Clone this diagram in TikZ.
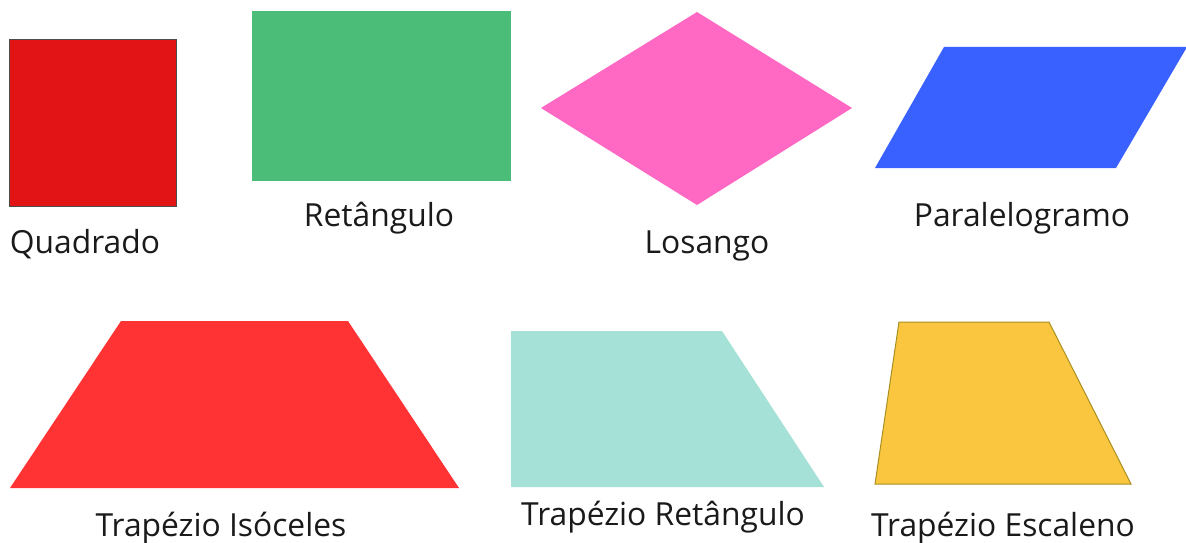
\documentclass[tikz,border=0pt]{standalone}
\usepackage{fontspec}
\setmainfont{Open Sans}
\definecolor{cq}{HTML}{E31416}
\definecolor{cr}{HTML}{4BBD78}
\definecolor{cl}{HTML}{FF69C4}
\definecolor{cp}{HTML}{3861FF}
\definecolor{ci}{HTML}{FF3333}
\definecolor{ct}{HTML}{A6E1D8}
\definecolor{ce}{HTML}{FAC640}
\definecolor{ceb}{HTML}{A89020}
\definecolor{txt}{HTML}{1A1A1A}
\begin{document}
\begin{tikzpicture}[x=1pt,y=-1pt,
  lbl/.style={anchor=base,font=\fontsize{31.8}{36}\selectfont,text=txt,inner sep=0pt}]
\useasboundingbox (0,0) rectangle (1186,543);
\fill[white] (0,0) rectangle (1186,543);
% shapes
\filldraw[fill=cq,draw=black!70,line width=0.8pt] (9,39) rectangle (176,206);
\fill[cr] (252,11) rectangle (511,181);
\fill[cl] (541,108) -- (697,12) -- (852,108) -- (697,205) -- cycle;
\fill[cp] (875,168) -- (944,47) -- (1187,47) -- (1116,168) -- cycle;
\fill[ci] (10,488) -- (121,321) -- (348,321) -- (459,488) -- cycle;
\fill[ct] (511,331) -- (722,331) -- (824,487) -- (511,487) -- cycle;
\filldraw[fill=ce,draw=ceb,line width=1pt] (875,484) -- (899,322) -- (1049,322) -- (1131,484) -- cycle;
% labels
\node[lbl] (lq) at (85,253) {Quadrado};
\node[lbl] (lr) at (379,226) {Retângulo};
\node[lbl] (ll) at (707,253) {Losango};
\node[lbl] (lp) at (1022,226) {Paralelogramo};
\node[lbl] (li) at (221,536) {Trapézio Isóceles};
\node[lbl] (lt) at (663,525) {Trapézio Retângulo};
\node[lbl] (le) at (1003,536) {Trapézio Escaleno};
\end{tikzpicture}
\end{document}
